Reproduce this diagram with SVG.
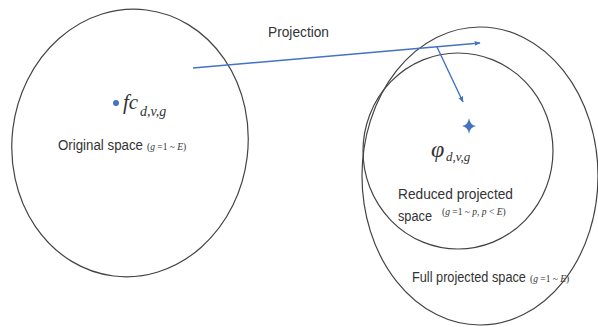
<svg xmlns="http://www.w3.org/2000/svg" width="598" height="327" viewBox="0 0 598 327">
<style>
.sp{fill:none;stroke:#444;stroke-width:1.2}
.lbl{font-family:"Liberation Sans Narrow","Liberation Sans",Arial,sans-serif;font-size:14px;fill:#333}
.m{font-family:"Liberation Serif","Times New Roman",serif;font-style:italic;fill:#333}
.s{font-family:"Liberation Serif","Times New Roman",serif;fill:#333;font-size:9.5px}
.con{stroke:#4472C4;stroke-width:1.4;fill:none}
</style>
<defs>
<marker id="ah" viewBox="0 0 10 10" refX="9" refY="5" markerWidth="6" markerHeight="6" orient="auto" markerUnits="userSpaceOnUse">
<path d="M0,1 L10,5 L0,9 z" fill="#4472C4"/>
</marker>
</defs>
<rect width="598" height="327" fill="#fff"/>
<g id="original">
<ellipse class="sp" cx="130" cy="143" rx="118" ry="134" transform="rotate(7 130 143)"/>
<circle cx="116" cy="103" r="3" fill="#4472C4"/>
<text class="m" x="123" y="109" font-size="21">fc</text>
<text class="m" x="140" y="116" font-size="14">d,v,g</text>
<text class="lbl" x="58" y="150" textLength="85" lengthAdjust="spacingAndGlyphs">Original space</text>
<text class="s" x="147" y="150">(<tspan font-style="italic">g</tspan> =1 ~ <tspan font-style="italic">E</tspan>)</text>
</g>
<g id="full">
<ellipse class="sp" cx="480" cy="176" rx="118" ry="149"/>
<text class="lbl" transform="translate(412 282) scale(0.91 1)">Full projected space</text>
<text class="s" x="530" y="282">(<tspan font-style="italic">g</tspan> =1 ~ <tspan font-style="italic">E</tspan>)</text>
</g>
<g id="reduced">
<ellipse class="sp" cx="458" cy="151" rx="95" ry="98"/>
<path d="M469,118 Q470,125 476,126 Q470,127 469,134 Q468,127 462,126 Q468,125 469,118 z" fill="#4472C4"/>
<text class="m" x="431" y="157" font-size="24">φ</text>
<text class="m" x="446" y="161" font-size="13">d,v,g</text>
<text class="lbl" x="398" y="199" textLength="115" lengthAdjust="spacingAndGlyphs">Reduced projected</text>
<text class="lbl" x="398" y="221" textLength="34" lengthAdjust="spacingAndGlyphs">space</text>
<text class="s" x="442" y="215">(<tspan font-style="italic">g</tspan> =1 ~ <tspan font-style="italic">p</tspan>, <tspan font-style="italic">p</tspan> &lt; <tspan font-style="italic">E</tspan>)</text>
</g>
<g id="connectors">
<line class="con" x1="193" y1="68" x2="480" y2="43" marker-end="url(#ah)"/>
<line class="con" x1="437" y1="47" x2="463" y2="102" marker-end="url(#ah)"/>
<text class="lbl" x="268" y="37" textLength="61" lengthAdjust="spacingAndGlyphs">Projection</text>
</g>
</svg>
